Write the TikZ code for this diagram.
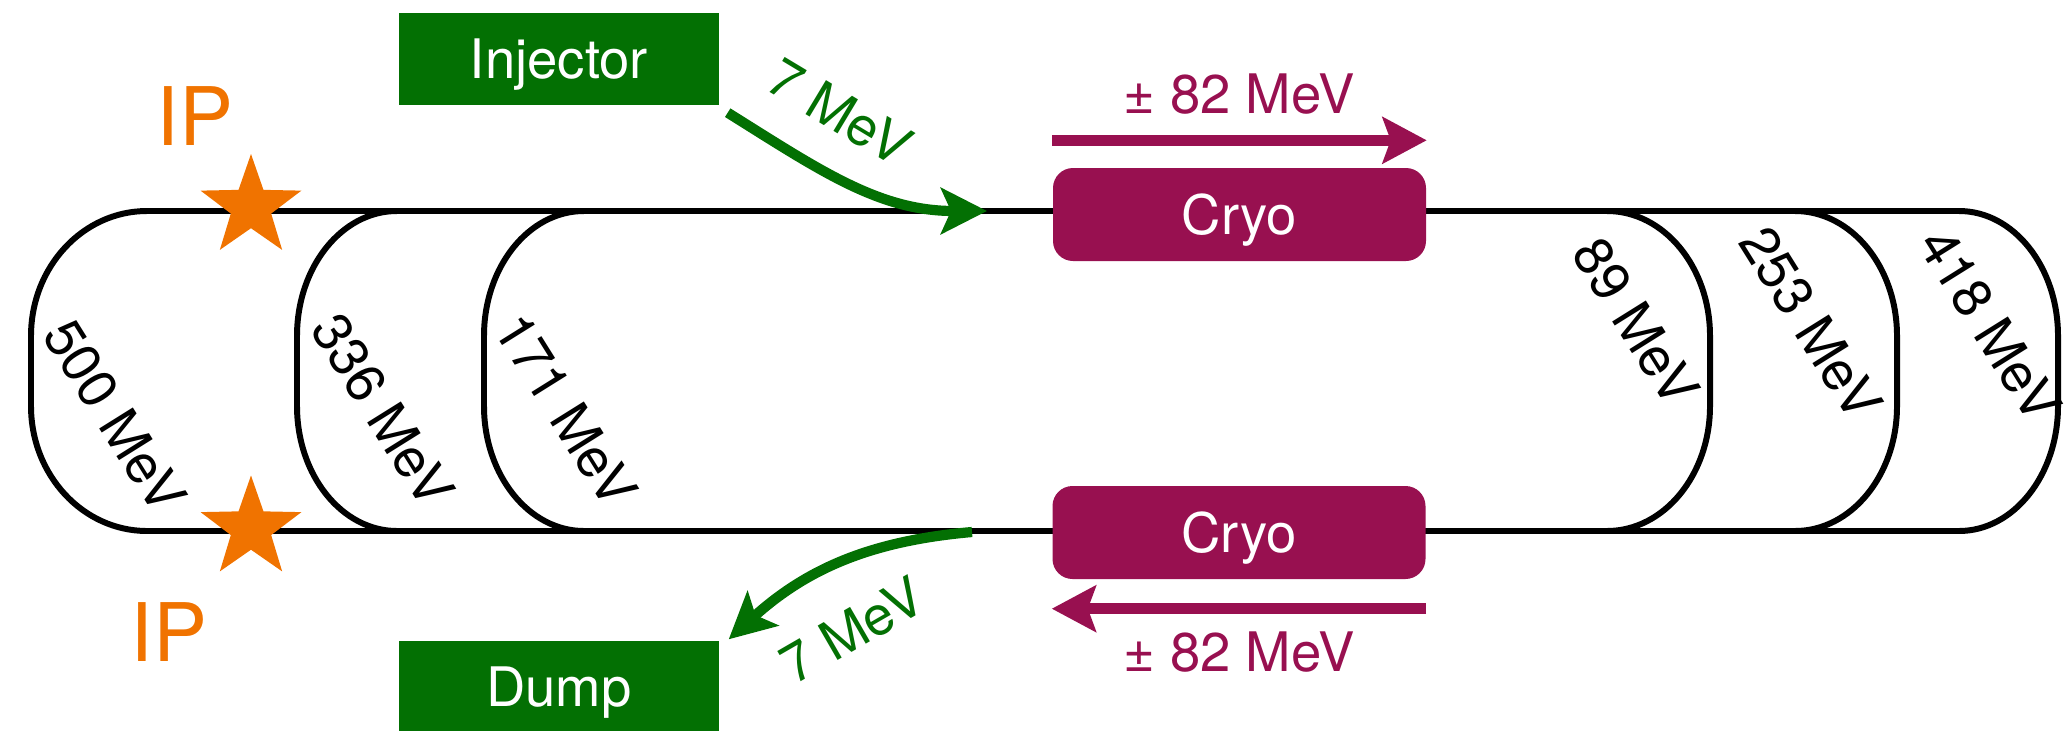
\documentclass[tikz,border=0pt]{standalone}
\usepackage{fontspec}
\setmainfont{TeX Gyre Heros}
\usetikzlibrary{shapes.geometric,arrows.meta}

\definecolor{injgreen}{RGB}{3,112,3}
\definecolor{cryopurple}{RGB}{152,16,80}
\definecolor{iporange}{RGB}{240,115,0}

\begin{document}
\begin{tikzpicture}[
	box/.style={
		fill=injgreen, text=white, inner sep=0pt,
		minimum width=3.2cm, minimum height=0.92cm,
		font=\fontsize{15.5}{18}\selectfont, text height=11.2pt, text depth=0pt
	},
	cryo/.style={
		fill=cryopurple, text=white, inner sep=0pt, rounded corners=2mm,
		minimum width=3.73cm, minimum height=0.93cm,
		font=\fontsize{15.5}{18}\selectfont, text height=11.2pt, text depth=0pt
	},
	ring/.style={line width=1.7pt},
	ipstar/.style={
		star, star points=5, star point ratio=2.5, fill=iporange,
		minimum size=1.06cm, inner sep=0pt
	},
	iplbl/.style={text=iporange, font=\fontsize{23}{26}\selectfont},
	energy/.style={font=\fontsize{15.5}{18}\selectfont, rotate=-58},
	lbl/.style={font=\fontsize{15.5}{18}\selectfont},
	beam/.style={-{Stealth[length=4.6mm, width=4.6mm, inset=1mm]}, line width=2.9pt, draw=injgreen},
	gain/.style={-{Stealth[length=4.4mm, width=4.6mm, inset=0.8mm]}, line width=3.2pt, draw=cryopurple},
	]
	
	\useasboundingbox (0,0) rectangle (20.64,-7.30);
	
	% straight sections
	\draw[ring] (1.47,-2.11) -- (19.59,-2.11);
	\draw[ring] (1.47,-5.31) -- (19.59,-5.31);
	
	% arcs, left side
	\draw[ring] (1.47,-2.11) arc[start angle=90, end angle=180, x radius=1.16, y radius=1.25]
	-- (0.31,-4.06) arc[start angle=180, end angle=270, x radius=1.16, y radius=1.25];
	\draw[ring] (3.97,-2.11) arc[start angle=90, end angle=180, x radius=1.0, y radius=1.25]
	-- (2.97,-4.06) arc[start angle=180, end angle=270, x radius=1.0, y radius=1.25];
	\draw[ring] (5.84,-2.11) arc[start angle=90, end angle=180, x radius=1.0, y radius=1.25]
	-- (4.84,-4.06) arc[start angle=180, end angle=270, x radius=1.0, y radius=1.25];
	
	% arcs, right side
	\draw[ring] (16.07,-2.11) arc[start angle=90, end angle=0, x radius=1.03, y radius=1.25]
	-- (17.10,-4.06) arc[start angle=0, end angle=-90, x radius=1.03, y radius=1.25];
	\draw[ring] (17.95,-2.11) arc[start angle=90, end angle=0, x radius=1.02, y radius=1.25]
	-- (18.97,-4.06) arc[start angle=0, end angle=-90, x radius=1.02, y radius=1.25];
	\draw[ring] (19.59,-2.11) arc[start angle=90, end angle=0, x radius=0.99, y radius=1.25]
	-- (20.58,-4.06) arc[start angle=0, end angle=-90, x radius=0.99, y radius=1.25];
	
	\node[box]  (inj)   at (5.59,-0.59)   {Injector};
	\node[box]  (dump)  at (5.59,-6.87)   {Dump};
	\node[cryo] (cryoA) at (12.395,-2.145) {Cryo};
	\node[cryo] (cryoB) at (12.39,-5.325)  {Cryo};
	
	\node[ipstar] (starA) at (2.51,-2.07)  {};
	\node[ipstar] (starB) at (2.51,-5.285) {};
	\node[iplbl]  (ipA)   at (1.95,-1.16)  {IP};
	\node[iplbl]  (ipB)   at (1.69,-6.32)  {IP};
	
	\node[energy] (e500) at (1.15,-4.16)  {500 MeV};
	\node[energy] (e336) at (3.83,-4.10)  {336 MeV};
	\node[energy] (e171) at (5.66,-4.10)  {171 MeV};
	\node[energy] (e89)  at (16.36,-3.22) {89 MeV};
	\node[energy] (e253) at (18.11,-3.23) {253 MeV};
	\node[energy] (e418) at (19.90,-3.25) {418 MeV};
	
	\coordinate (inj-in)   at (9.87,-2.11);
	\coordinate (dump-out) at (9.72,-5.32);
	
	\draw[beam] ([shift={(0.08,-0.07)}]inj.south east) to[out=-32, in=180] (inj-in);
	\draw[beam] (dump-out) to[out=185, in=42] ([shift={(0.09,0.01)}]dump.north east);
	\node[lbl, text=injgreen, rotate=-31] (injE)  at (8.40,-1.12) {7 MeV};
	\node[lbl, text=injgreen, rotate=30]  (dumpE) at (8.52,-6.30) {7 MeV};
	
	\draw[gain] ([yshift=0.27cm]cryoA.north west) -- ([yshift=0.27cm]cryoA.north east);
	\draw[gain] ([yshift=-0.29cm]cryoB.south east) -- ([yshift=-0.29cm]cryoB.south west);
	\node[lbl, text=cryopurple] (gainA) at (12.39,-0.94) {± 82 MeV};
	\node[lbl, text=cryopurple] (gainB) at (12.39,-6.52) {± 82 MeV};
	
\end{tikzpicture}
\end{document}
